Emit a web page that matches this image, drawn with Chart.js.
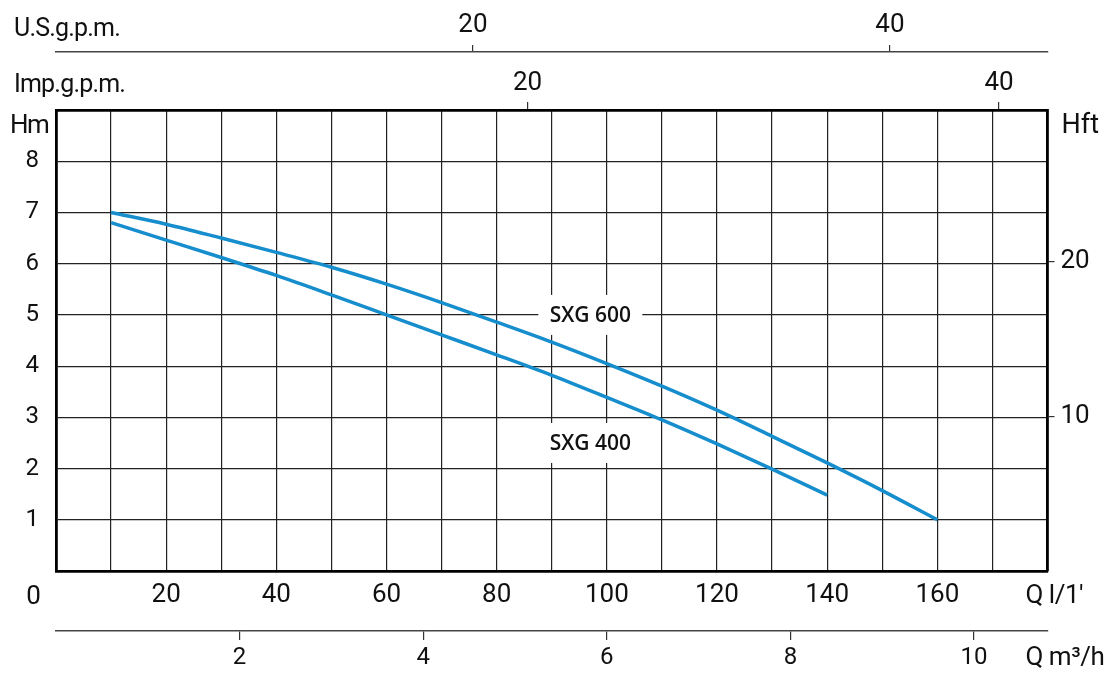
<!DOCTYPE html>
<html lang="it">
<head>
    <meta charset="UTF-8">
    <title>SXG 400 / SXG 600</title>
    <script src="https://cdn.jsdelivr.net/npm/chart.js"></script>
    <style>
        html, body { margin: 0; padding: 0; background: #fff; }
        #wrap { width: 1114px; height: 677px; }
    </style>
</head>
<body>
    <div id="wrap"><canvas id="curves"></canvas></div>

    <script>
        // Q in l/min, H in m
        const portata600 = [10, 20, 30, 40, 50, 60, 70, 80, 90, 100, 110, 120, 130, 140, 150, 160];
        const prevalenza600 = [7.0, 6.77, 6.50, 6.22, 5.93, 5.60, 5.24, 4.86, 4.47, 4.05, 3.61, 3.14, 2.63, 2.11, 1.57, 1.0];
        const portata400 = [10, 20, 30, 40, 50, 60, 70, 80, 90, 100, 110, 120, 130, 140];
        const prevalenza400 = [6.80, 6.46, 6.12, 5.77, 5.39, 5.00, 4.61, 4.22, 3.82, 3.39, 2.95, 2.48, 1.99, 1.48];

        // tick labels of each axis
        const tickQ = [20, 40, 60, 80, 100, 120, 140, 160];
        const tickHm = [1, 2, 3, 4, 5, 6, 7, 8];
        const tickHft = [10, 20];
        const tickUS = [20, 40];
        const tickImp = [20, 40];
        const tickM3 = [2, 4, 6, 8, 10];

        // unit conversions for the secondary axes (as drawn on the sheet)
        const Q_MAX = 180;
        const H_MAX = 9;
        const LMIN_PER_USGPM = 3.785;
        const LMIN_PER_IMPGPM = 4.28;
        const LMIN_PER_M3H = 16.667;
        const FT_PER_M = 3.315;

        const blu = '#168dcd';
        const nero = '#111';
        const font = { family: 'Roboto', size: 26, weight: 'normal' };
        const fontSmall = { family: 'Roboto', size: 24, weight: 'normal' };

        function toPoints(xs, ys) {
            return xs.map((x, i) => ({ x: x, y: ys[i] }));
        }

        function fixedTicks(values) {
            return scale => { scale.ticks = values.map(v => ({ value: v })); };
        }

        const thinGrid = { color: '#222', lineWidth: 1.2, drawTicks: false };
        const frame = { color: '#000', width: 2.8 };

        const etichette = [
            { text: 'SXG 600', q: 97, h: 5.0 },
            { text: 'SXG 400', q: 97, h: 2.5 }
        ];

        const extraText = {
            id: 'extraText',
            beforeDatasetsDraw(chart) {
                const ctx = chart.ctx;
                const sx = chart.scales.x, sy = chart.scales.y;
                ctx.save();
                ctx.font = '600 21px "Open Sans"';
                ctx.textAlign = 'center';
                ctx.textBaseline = 'middle';
                etichette.forEach(e => {
                    const px = sx.getPixelForValue(e.q);
                    const py = sy.getPixelForValue(e.h);
                    ctx.fillStyle = '#fff';
                    ctx.fillRect(px - 52, py - 20, 104, 40);
                    ctx.fillStyle = nero;
                    ctx.fillText(e.text, px, py + 1);
                });
                ctx.restore();
            },
            afterDraw(chart) {
                const ctx = chart.ctx;
                const a = chart.chartArea;
                const us = chart.scales.xus, imp = chart.scales.ximp, m3 = chart.scales.xm3;
                ctx.save();
                ctx.fillStyle = nero;
                ctx.textBaseline = 'alphabetic';
                ctx.textAlign = 'left';
                ctx.font = '25px Roboto';
                ctx.letterSpacing = '-0.8px';
                ctx.fillText('U.S.g.p.m.', 14, us.bottom - 16.5);
                ctx.fillText('Imp.g.p.m.', 14, imp.bottom - 18.5);
                ctx.font = '26px Roboto';
                ctx.letterSpacing = '-1.5px';
                ctx.fillText('Hm', 10, a.top + 23);
                ctx.font = '27px Roboto';
                ctx.letterSpacing = '0px';
                ctx.fillText('Hft', a.right + 14, a.top + 23);
                ctx.font = '26px Roboto';
                ctx.letterSpacing = '-0.5px';
                ctx.fillText('Q l/1\u2032', a.right - 22, a.bottom + 32);
                ctx.fillText('Q m\u00b3/h', a.right - 22, m3.top + 34);
                ctx.letterSpacing = '0px';
                ctx.textAlign = 'center';
                ctx.fillText('0', a.left - 22.5, a.bottom + 33);
                ctx.restore();
            }
        };

        const ctx = document.getElementById('curves').getContext('2d');
        new Chart(ctx, {
            type: 'line',
            data: {
                datasets: [{
                    label: 'SXG 600',
                    data: toPoints(portata600, prevalenza600),
                    borderColor: blu,
                    borderWidth: 3.5,
                    pointRadius: 0,
                    cubicInterpolationMode: 'monotone',
                    fill: false
                }, {
                    label: 'SXG 400',
                    data: toPoints(portata400, prevalenza400),
                    borderColor: blu,
                    borderWidth: 3.5,
                    pointRadius: 0,
                    cubicInterpolationMode: 'monotone',
                    fill: false
                }]
            },
            options: {
                responsive: true,
                maintainAspectRatio: false,
                animation: false,
                layout: { padding: 0 },
                plugins: {
                    legend: { display: false },
                    tooltip: { enabled: false }
                },
                scales: {
                    x: {
                        type: 'linear',
                        position: 'bottom',
                        weight: 0,
                        min: 0,
                        max: Q_MAX,
                        grid: thinGrid,
                        border: frame,
                        ticks: {
                            stepSize: 10,
                            autoSkip: false,
                            maxRotation: 0,
                            padding: 9,
                            color: nero,
                            font: font,
                            callback: v => tickQ.includes(v) ? String(v) : ''
                        },
                        afterFit: s => { s.height = 60; }
                    },
                    xm3: {
                        type: 'linear',
                        position: 'bottom',
                        weight: 1,
                        min: 0,
                        max: Q_MAX / LMIN_PER_M3H,
                        afterBuildTicks: fixedTicks(tickM3),
                        grid: { drawOnChartArea: false, drawTicks: true, tickLength: 9, color: '#333', lineWidth: 1.2 },
                        border: { color: '#444', width: 1.6 },
                        ticks: { autoSkip: false, maxRotation: 0, padding: 4, color: nero, font: fontSmall },
                        afterFit: s => { s.height = 46; }
                    },
                    ximp: {
                        type: 'linear',
                        position: 'top',
                        weight: 0,
                        min: 0,
                        max: Q_MAX / LMIN_PER_IMPGPM,
                        afterBuildTicks: fixedTicks(tickImp),
                        grid: { drawOnChartArea: false, drawTicks: true, tickLength: 8, color: '#333', lineWidth: 1.2 },
                        border: frame,
                        ticks: { autoSkip: false, maxRotation: 0, padding: 3, color: nero, font: font },
                        afterFit: s => { s.height = 58; }
                    },
                    xus: {
                        type: 'linear',
                        position: 'top',
                        weight: 1,
                        min: 0,
                        max: Q_MAX / LMIN_PER_USGPM,
                        afterBuildTicks: fixedTicks(tickUS),
                        grid: { drawOnChartArea: false, drawTicks: true, tickLength: 7, color: '#333', lineWidth: 1.2 },
                        border: { color: '#444', width: 1.6 },
                        ticks: { autoSkip: false, maxRotation: 0, padding: 4, color: nero, font: font },
                        afterFit: s => { s.height = 52; }
                    },
                    y: {
                        type: 'linear',
                        position: 'left',
                        min: 0,
                        max: H_MAX,
                        grid: thinGrid,
                        border: frame,
                        ticks: {
                            stepSize: 1,
                            padding: 17,
                            color: nero,
                            font: fontSmall,
                            callback: v => tickHm.includes(v) ? String(v) : ''
                        },
                        afterFit: s => { s.width = 56; }
                    },
                    yft: {
                        type: 'linear',
                        position: 'right',
                        min: 0,
                        max: H_MAX * FT_PER_M,
                        afterBuildTicks: fixedTicks(tickHft),
                        grid: { drawOnChartArea: false, drawTicks: true, tickLength: 7, color: '#333', lineWidth: 1.2 },
                        border: frame,
                        ticks: { padding: 6, color: nero, font: font },
                        afterFit: s => { s.width = 66.5; }
                    }
                }
            },
            plugins: [extraText]
        });
    </script>
</body>
</html>
